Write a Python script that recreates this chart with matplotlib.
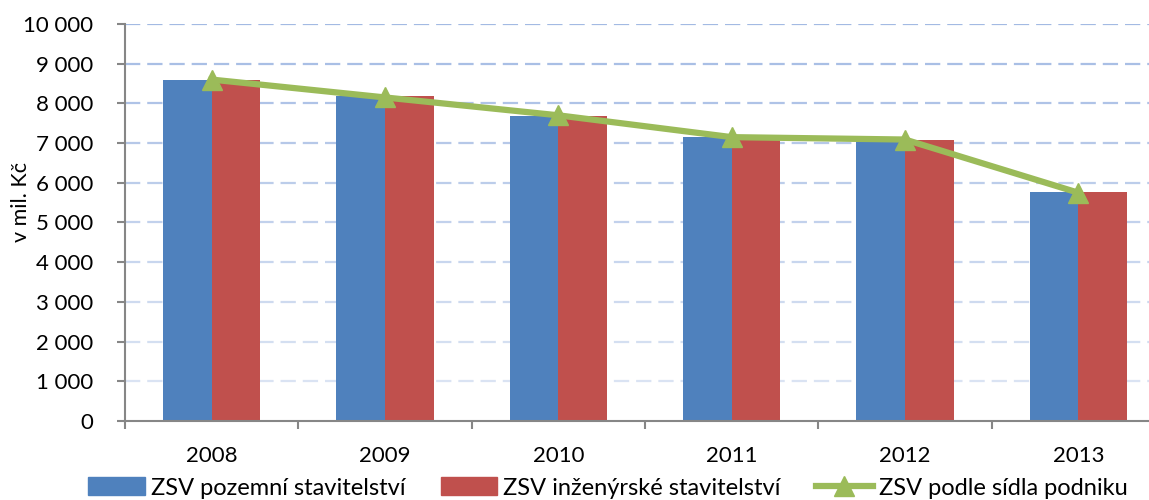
import numpy as np
import matplotlib.pyplot as plt
from matplotlib.lines import Line2D
from matplotlib.patches import Patch

plt.rcParams['font.family'] = ['Lato', 'DejaVu Sans']
plt.rcParams['lines.scale_dashes'] = False

years = ['2008', '2009', '2010', '2011', '2012', '2013']
pozemni = [8590, 8190, 7690, 7150, 7080, 5780]
inzenyrske = [8590, 8190, 7690, 7150, 7080, 5780]
sidlo = [8600, 8150, 7700, 7150, 7090, 5750]

BLUE = '#4f81bd'
RED = '#c0504d'
GREEN = '#9bbb59'
AXIS = '#868686'

fig = plt.figure(figsize=(11.49, 5.0), dpi=100)
ax = fig.add_axes([125 / 1149, 79 / 500, (1149 - 125) / 1149, (476 - 79) / 500])

x = np.arange(len(years))
w = 0.28
ax.bar(x - w / 2, pozemni, width=w, color=BLUE, zorder=2)
ax.bar(x + w / 2, inzenyrske, width=w, color=RED, zorder=2)
ax.plot(x, sidlo, color=GREEN, lw=4.5, marker='^', ms=15, mec=GREEN, zorder=3)

yt = np.arange(0, 10001, 1000)
ax.set_yticks(yt)
ax.set_yticklabels([f"{v:,}".replace(',', ' ') for v in yt], fontsize=16)
ax.set_xticks(x)
ax.set_xticklabels(years, fontsize=16)
ax.set_xticks(np.arange(-0.5, 5.0, 1.0), minor=True)
ax.tick_params(axis='x', which='major', length=0, pad=18)
ax.tick_params(axis='x', which='minor', length=6, width=1.5, color=AXIS)
ax.tick_params(axis='y', length=6, width=1.5, color=AXIS, pad=17)

# set limits after the ticks so they are not widened again
ax.set_ylim(0, 10000)
ax.set_xlim(-0.5, 5.5 - 16 / 173.4)

# dashed gridlines, fading toward the bottom
top_c = np.array([0.64, 0.73, 0.89])
bot_c = np.array([0.88, 0.91, 0.96])
for v in yt[1:]:
    t = v / 10000
    c = bot_c + (top_c - bot_c) * t
    ax.axhline(v, color=c, lw=1.6, dashes=(11, 5), zorder=1)

for s in ['top', 'right']:
    ax.spines[s].set_visible(False)
for s in ['left', 'bottom']:
    ax.spines[s].set_color(AXIS)
    ax.spines[s].set_linewidth(1.5)

fig.text(21 / 1149, 298 / 500, 'v mil. Kč', rotation=90, fontsize=15.5,
         ha='center', va='center')

handles = [
    Patch(color=BLUE, label='ZSV pozemní stavitelství'),
    Patch(color=RED, label='ZSV inženýrské stavitelství'),
    Line2D([], [], color=GREEN, lw=4.5, marker='^', ms=15,
           label='ZSV podle sídla podniku'),
]
fig.legend(handles=handles, loc='center', bbox_to_anchor=(0.529, 0.024),
           ncol=3, frameon=False, fontsize=17, handlelength=2.4,
           handleheight=0.8, handletextpad=0.25, columnspacing=1.5)

fig.savefig('out.png', dpi=100)
